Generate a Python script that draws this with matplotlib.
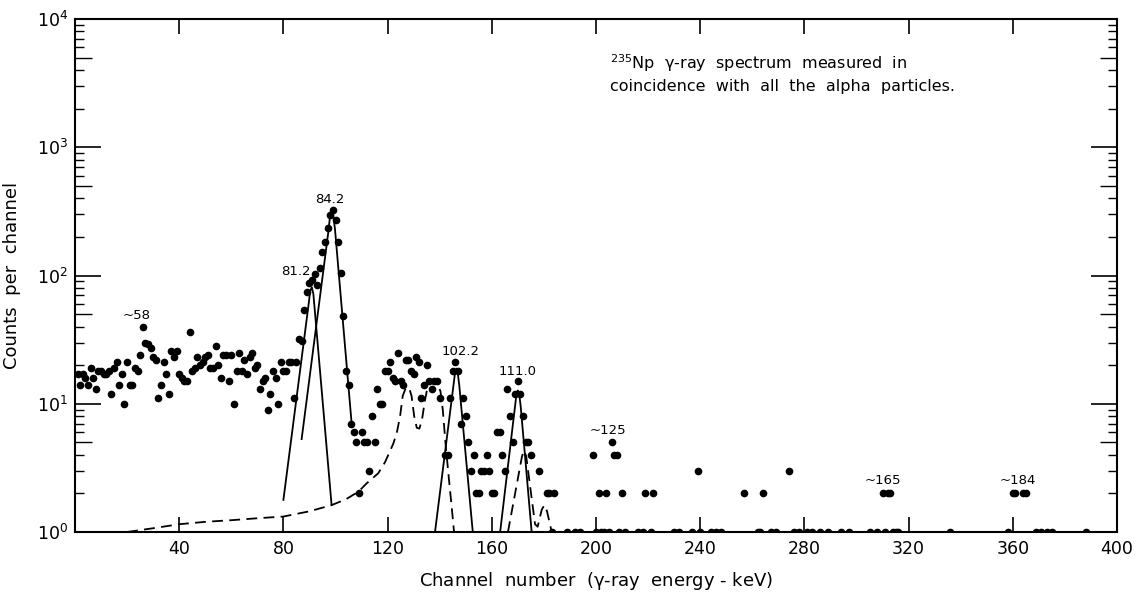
import matplotlib
matplotlib.use("Agg")
import matplotlib.pyplot as plt
from matplotlib.ticker import FixedLocator, LogLocator, NullFormatter, NullLocator

plt.rcParams["font.family"] = ["DejaVu Sans"]
plt.rcParams["mathtext.default"] = "regular"

# ---- measured counts per channel ------------------------------------------
channels = [
    1, 2, 3, 4, 5, 6, 7, 8, 9, 10, 11, 12, 13, 14, 15, 16, 17, 18, 19, 20,
    21, 22, 23, 24, 25, 26, 27, 28, 29, 30, 31, 32, 33, 34, 35, 36, 37, 38, 39, 40,
    41, 42, 43, 44, 45, 46, 47, 48, 49, 50, 51, 52, 53, 54, 55, 56, 57, 58, 59, 60,
    61, 62, 63, 64, 65, 66, 67, 68, 69, 70, 71, 72, 73, 74, 75, 76, 77, 78, 79, 80,
    81, 82, 83, 84, 85, 86, 87, 88, 89, 90, 91, 92, 93, 94, 95, 96, 97, 98, 99, 100,
    101, 102, 103, 104, 105, 106, 107, 108, 109, 110, 111, 112, 113, 114, 115, 116,
    117, 118, 119, 120, 121, 122, 123, 124, 125, 126, 127, 128, 129, 130, 131, 132,
    133, 134, 135, 136, 137, 138, 139, 140, 142, 143, 144, 145, 146, 147, 148, 149,
    150, 151, 152, 153, 154, 155, 156, 157, 158, 159, 160, 161, 162, 163, 164, 165,
    166, 167, 168, 169, 170, 171, 172, 173, 174, 175, 178, 181, 182, 184,
]
counts = [
    17, 14, 17, 16, 14, 19, 16, 13, 18, 18, 17, 17, 18, 12, 19, 21, 14, 17, 10, 21,
    14, 14, 19, 18, 24, 40, 30, 29, 27, 23, 22, 11, 14, 21, 17, 12, 26, 23, 26, 17,
    16, 15, 15, 36, 18, 19, 23, 20, 21, 23, 24, 19, 19, 28, 20, 16, 24, 24, 15, 24,
    10, 18, 25, 18, 22, 17, 23, 25, 19, 20, 13, 15, 16, 9, 12, 18, 16, 10, 21, 18,
    18, 21, 21, 11, 21, 32, 31, 54, 75, 87, 92, 102, 84, 115, 153, 184, 233, 297, 324, 270,
    184, 104, 48, 18, 14, 7, 6, 5, 2, 6, 5, 5, 3, 8, 5, 13,
    10, 10, 18, 18, 21, 16, 15, 25, 15, 14, 22, 22, 18, 17, 23, 21,
    11, 14, 20, 15, 13, 15, 15, 11, 4, 4, 11, 18, 21, 18, 7, 11,
    8, 5, 3, 4, 2, 2, 3, 3, 4, 3, 2, 2, 6, 6, 4, 3,
    13, 8, 5, 12, 15, 12, 8, 5, 5, 4, 3, 2, 2, 2,
]

# sparse high-energy tail
tail_channels = [199, 201, 204, 206, 207, 208, 210, 219, 222, 239, 257, 264, 274,
                 310, 312, 313, 360, 361, 364, 365]
tail_counts = [4, 2, 2, 5, 4, 4, 2, 2, 2, 3, 2, 2, 3,
               2, 2, 2, 2, 2, 2, 2]

# channels holding a single count
single_channels = [183, 189, 192, 194, 200, 202, 203, 205, 209, 211, 216, 218, 221,
                   230, 232, 237, 240, 244, 246, 248, 262, 263, 267, 269, 276, 278,
                   281, 283, 286, 289, 294, 297, 305, 308, 311, 314, 315, 316, 336,
                   358, 369, 371, 373, 375, 388]

# ---- fitted peak shapes ------------------------------------------------------
peak_812_x = [80.0, 89.6, 90.3, 90.9, 91.5, 98.5]
peak_812_y = [1.78, 58, 76, 81, 72, 1.62]
peak_842_x = [87.0, 97.2, 97.9, 98.5, 99.1, 99.8, 106.2]
peak_842_y = [5.3, 215, 290, 330, 300, 230, 7.0]
peak_1022_x = [138.2, 145.3, 145.9, 146.4, 146.9, 147.5, 152.7]
peak_1022_y = [1.0, 14, 17.5, 18.8, 17.5, 14, 1.0]
peak_1110_x = [163.2, 168.9, 169.5, 170.0, 170.5, 171.1, 175.3]
peak_1110_y = [1.0, 9.5, 12, 12.7, 12, 9.5, 1.0]

# unresolved components (dashed)
comp_a_x = [20, 30, 40, 50, 61, 70, 80, 90, 98.5, 104, 108.8, 112, 116.4, 119,
            121, 122.2, 123.5, 124.8, 125.8, 126.8, 128.2, 129.2, 130.2, 131.2,
            132.2, 133.2, 134.3, 135.5, 137, 139, 140.3, 141.2, 142.2, 143.3,
            144.6, 145.5]
comp_a_y = [1.0, 1.07, 1.15, 1.2, 1.24, 1.28, 1.32, 1.45, 1.62, 1.8, 2.06, 2.4,
            2.87, 3.5, 4.3, 4.9, 5.9, 8.0, 11.5, 13.0, 13.4, 11.5, 8.0, 6.5,
            6.4, 7.5, 10.5, 14.0, 15.0, 14.5, 12.5, 8.9, 5.0, 2.9, 1.57, 1.0]
comp_b_x = [166.2, 171.6, 172.4, 173.2, 176.6, 177.6, 179.2, 180.2, 181.2, 183.0]
comp_b_y = [1.0, 3.9, 4.3, 3.9, 1.15, 1.1, 1.5, 1.62, 1.45, 1.0]

# peak labels: text, channel, height
labels = ["~58", "81.2", "84.2", "102.2", "111.0", "~125", "~165", "~184"]
label_x = [23.5, 84.8, 98.0, 148.2, 170.0, 204.7, 310.0, 362.0]
label_y = [49, 107, 393, 25.5, 17.8, 6.2, 2.54, 2.54]

# ---- figure -----------------------------------------------------------------
fig = plt.figure(figsize=(11.42, 5.95), dpi=100)
ax = fig.add_axes([75 / 1142, 63 / 595, 1042 / 1142, 513 / 595])
ax.set_yscale("log")
ax.set_xlim(0, 400)
ax.set_ylim(1, 1e4)

dot = dict(ls="none", marker="o", ms=4.5, color="black", zorder=3)
ax.plot(channels, counts, **dot)
ax.plot(tail_channels, tail_counts, **dot)
ax.plot(single_channels, [1] * len(single_channels), **dot)

for xs, ys in [(peak_812_x, peak_812_y), (peak_842_x, peak_842_y),
               (peak_1022_x, peak_1022_y), (peak_1110_x, peak_1110_y)]:
    ax.plot(xs, ys, color="black", lw=1.3, zorder=2)
for xs, ys in [(comp_a_x, comp_a_y), (comp_b_x, comp_b_y)]:
    ax.plot(xs, ys, color="black", lw=1.3, ls=(0, (6, 3.5)), zorder=2)

for t, x, y in zip(labels, label_x, label_y):
    ax.text(x, y, t, ha="center", va="center", fontsize=9.5)

ax.text(0.513, 0.895, "$^{235}$Np  $\\gamma$-ray  spectrum  measured  in\n"
        "coincidence  with  all  the  alpha  particles.",
        transform=ax.transAxes, ha="left", va="center", fontsize=11.5,
        linespacing=1.45)

# ---- axes styling -----------------------------------------------------------
for s in ax.spines.values():
    s.set_linewidth(1.5)

ax.xaxis.set_major_locator(FixedLocator(range(40, 401, 40)))
ax.xaxis.set_minor_locator(NullLocator())
ax.tick_params(axis="x", which="major", direction="in", length=11, width=1.2,
               top=True, labelsize=12.5, pad=6)

ax.yaxis.set_major_locator(LogLocator(base=10, numticks=6))
ax.yaxis.set_minor_locator(FixedLocator(
    [m * 10 ** e for e in range(4) for m in (2, 3, 4, 6, 7, 8, 9)]))
ax.yaxis.set_minor_formatter(NullFormatter())
ax.tick_params(axis="y", which="major", direction="in", length=19, width=1.2,
               right=True, labelsize=12.5, pad=5)
ax.tick_params(axis="y", which="minor", direction="in", length=6.5, width=1.0,
               right=True)

# medium ticks at 5 x 10^n on both sides
for side in ("left", "right"):
    sec = ax.secondary_yaxis(side)
    sec.set_yscale("log")
    sec.yaxis.set_major_locator(FixedLocator([5, 50, 500, 5000]))
    sec.yaxis.set_minor_locator(NullLocator())
    sec.yaxis.set_major_formatter(NullFormatter())
    sec.tick_params(direction="in", length=12, width=1.0)
    sec.spines[side].set_visible(False)

ax.set_xlabel("Channel  number  ($\\gamma$-ray  energy - keV)", fontsize=13)
ax.xaxis.set_label_coords(0.5, -0.074)
ax.set_ylabel("Counts  per  channel", fontsize=13)
ax.yaxis.set_label_coords(-0.052, 0.5)

fig.savefig("out.png", dpi=100)
